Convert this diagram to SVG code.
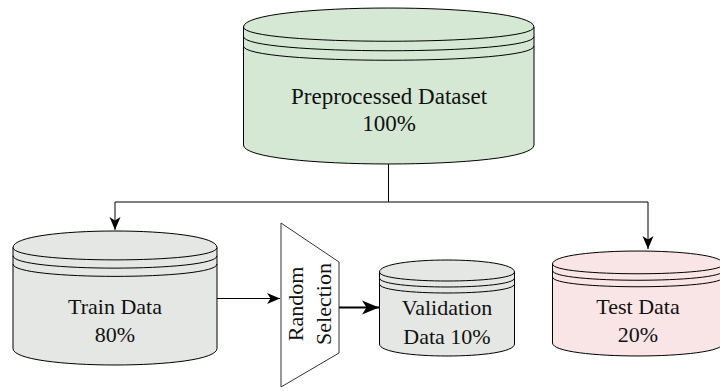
<svg xmlns="http://www.w3.org/2000/svg" width="720" height="391" viewBox="0 0 720 391">
  <style>
    .store { stroke: #000; stroke-width: 1; }
    .band { fill: none; stroke: #000; stroke-width: 1; }
    .green { fill: #d5e8d4; }
    .grey { fill: #e5e7e4; }
    .pink { fill: #f9e5e5; }
    .label { font-family: "Liberation Serif", "Times New Roman", serif; font-size: 22px; fill: #111; text-anchor: middle; }
    .edge { fill: none; stroke: #000; stroke-width: 1; }
    .edge-bold { fill: none; stroke: #000; stroke-width: 2; }
  </style>
  <defs>
    <marker id="arrow" markerUnits="userSpaceOnUse" markerWidth="14" markerHeight="12" refX="13" refY="6" orient="auto">
      <path d="M13,6 L0,0.5 L3.5,6 L0,11.5 Z" fill="#000"/>
    </marker>
    <marker id="arrow-bold" markerUnits="userSpaceOnUse" markerWidth="18" markerHeight="16" refX="17" refY="8" orient="auto">
      <path d="M17,8 L0,1 L4.5,8 L0,15 Z" fill="#000"/>
    </marker>
  </defs>

  <!-- connectors -->
  <g id="connectors">
    <path class="edge" d="M388.5,164 V202 H115 V230" marker-end="url(#arrow)"/>
    <path class="edge" d="M388.5,202 H648 V249" marker-end="url(#arrow)"/>
    <path class="edge" d="M217,298.5 H280" marker-end="url(#arrow)"/>
    <path class="edge-bold" d="M339,307.5 H379" marker-end="url(#arrow-bold)"/>
  </g>

  <!-- Preprocessed dataset store: x=243.5 y=8 w=290.5 h=156 dy=19 -->
  <g id="preprocessed">
    <path class="store green" d="M243.5,27 C243.5,1.7 534,1.7 534,27 L534,145 C534,170.3 243.5,170.3 243.5,145 Z"/>
    <path class="band" d="M243.5,27 C243.5,46 534,46 534,27"/>
    <path class="band" d="M243.5,36.5 C243.5,55.5 534,55.5 534,36.5"/>
    <path class="band" d="M243.5,46 C243.5,65 534,65 534,46"/>
    <text class="label" x="389" y="103.5" style="font-size:23px">Preprocessed Dataset</text>
    <text class="label" x="389" y="131" style="font-size:23px">100%</text>
  </g>

  <!-- Train store: x=13 y=231 w=204 h=134 dy=16.5 -->
  <g id="train">
    <path class="store grey" d="M13,247.5 C13,225.5 217,225.5 217,247.5 L217,348.5 C217,370.5 13,370.5 13,348.5 Z"/>
    <path class="band" d="M13,247.5 C13,264 217,264 217,247.5"/>
    <path class="band" d="M13,255.75 C13,272.25 217,272.25 217,255.75"/>
    <path class="band" d="M13,264 C13,280.5 217,280.5 217,264"/>
    <text class="label" x="115" y="313.5">Train Data</text>
    <text class="label" x="115" y="341.5">80%</text>
  </g>

  <!-- Random selection trapezoid -->
  <g id="selection">
    <path d="M281,223 L339,262 L339,353 L281,387 Z" fill="#fff" stroke="#333" stroke-width="1"/>
    <g transform="translate(310,304) rotate(-90)">
      <text class="label" x="0" y="-7.5">Random</text>
      <text class="label" x="0" y="21">Selection</text>
    </g>
  </g>

  <!-- Validation store: x=379.5 y=260 w=135 h=96 dy=12 -->
  <g id="validation">
    <path class="store grey" d="M379.5,272 C379.5,256 514.5,256 514.5,272 L514.5,344 C514.5,360 379.5,360 379.5,344 Z"/>
    <path class="band" d="M379.5,272 C379.5,284 514.5,284 514.5,272"/>
    <path class="band" d="M379.5,278 C379.5,290 514.5,290 514.5,278"/>
    <path class="band" d="M379.5,284 C379.5,296 514.5,296 514.5,284"/>
    <text class="label" x="447" y="315">Validation</text>
    <text class="label" x="447" y="343.5">Data 10%</text>
  </g>

  <!-- Test store: x=552.5 y=251 w=171 h=105 dy=13 -->
  <g id="test">
    <path class="store pink" d="M552.5,264 C552.5,246.7 723.5,246.7 723.5,264 L723.5,343 C723.5,360.3 552.5,360.3 552.5,343 Z"/>
    <path class="band" d="M552.5,264 C552.5,277 723.5,277 723.5,264"/>
    <path class="band" d="M552.5,270.5 C552.5,283.5 723.5,283.5 723.5,270.5"/>
    <path class="band" d="M552.5,277 C552.5,290 723.5,290 723.5,277"/>
    <text class="label" x="638" y="313.5">Test Data</text>
    <text class="label" x="638" y="341.5">20%</text>
  </g>
</svg>
